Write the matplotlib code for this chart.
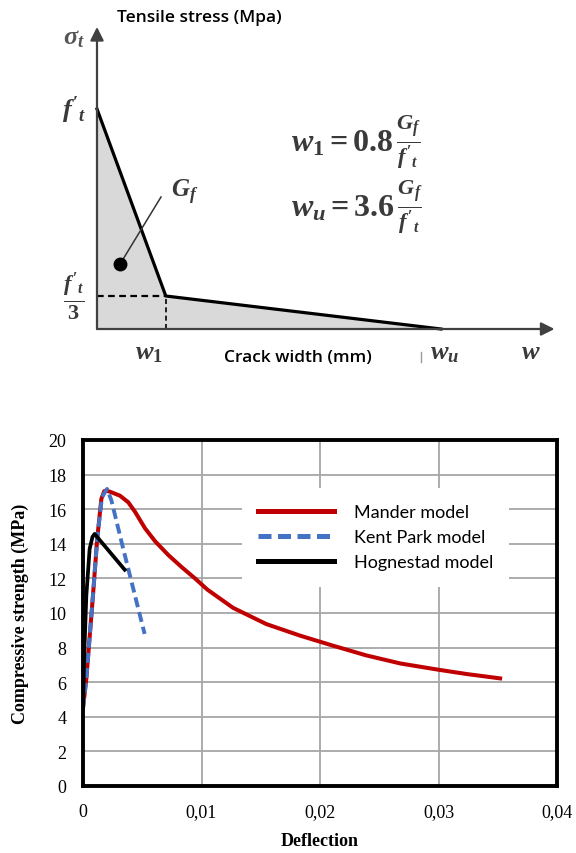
import matplotlib
matplotlib.use("Agg")
import matplotlib.pyplot as plt
from matplotlib.ticker import FuncFormatter, MultipleLocator
from matplotlib.patches import Polygon

plt.rcParams["mathtext.fontset"] = "custom"
plt.rcParams["mathtext.it"] = "Liberation Serif:italic:bold"
plt.rcParams["mathtext.rm"] = "Liberation Serif:bold"
plt.rcParams["mathtext.bf"] = "Liberation Serif:bold"

# schematic softening law (relative units)
law_w = [0.0, 0.2, 1.0]
law_sigma = [1.0, 0.15, 0.0]

# compressive curves
mander_x = [0.0, 0.00028, 0.00084, 0.0012, 0.00155, 0.0018, 0.00197, 0.00228, 0.00312,
            0.00382, 0.00439, 0.00523, 0.00608, 0.0072, 0.00833, 0.00945, 0.0105,
            0.01266, 0.01547, 0.01828, 0.0211, 0.0239, 0.0268, 0.0300, 0.0324, 0.0352]
mander_y = [4.5, 6.2, 11.0, 14.3, 16.6, 17.05, 17.07, 17.01, 16.78,
            16.4, 15.85, 14.9, 14.15, 13.35, 12.65, 12.0, 11.35,
            10.3, 9.36, 8.7, 8.11, 7.55, 7.08, 6.72, 6.47, 6.22]
kent_x = [0.0, 0.00028, 0.00084, 0.0012, 0.0016, 0.00203, 0.0024, 0.00338, 0.0052]
kent_y = [4.5, 6.2, 11.0, 14.3, 16.7, 17.17, 16.5, 13.75, 8.79]
hog_x = [0.0, 0.0001, 0.00028, 0.00056, 0.0008, 0.00098, 0.00352]
hog_y = [4.5, 7.5, 11.0, 13.7, 14.4, 14.57, 12.5]

fig = plt.figure(figsize=(5.76, 8.54), dpi=100)

# ---------- top: schematic ----------
top = fig.add_axes([0, 1 - 380 / 854, 1, 380 / 854])
top.set_xlim(-97 / 344, (576 - 97) / 344)
top.set_ylim(-50 / 220, 330 / 220)
top.axis("off")

poly = [(0.0, 0.0)] + list(zip(law_w, law_sigma))
top.add_patch(Polygon(poly, closed=True, facecolor="#d9d9d9", edgecolor="none", zorder=1))
top.plot(law_w, law_sigma, color="black", lw=2.3, zorder=4)
top.plot([0, law_w[1]], [law_sigma[1], law_sigma[1]], color="black", lw=1.6, ls=(0, (3, 2)), zorder=3)
top.plot([law_w[1], law_w[1]], [0, law_sigma[1]], color="black", lw=1.2, ls=(0, (3, 2)), zorder=3)

arrow = dict(arrowstyle="-|>", color="#404040", lw=1.6, mutation_scale=20, shrinkA=0, shrinkB=0)
top.annotate("", xy=(0, 1.373), xytext=(0, 0), arrowprops=arrow, zorder=5)
top.annotate("", xy=(1.33, 0), xytext=(0, 0), arrowprops=arrow, zorder=5)

top.plot([0.067, 0.186], [0.295, 0.6], color="#333333", lw=1.1, zorder=5)
top.plot([0.067], [0.295], "o", color="black", ms=9, zorder=6)
top.plot([0.942, 0.942], [-0.105, -0.15], color="#999999", lw=1)

ms = 19
tc = "#3a3a3a"
top.text(-0.067, 1.33, r"$\sigma_t$", fontsize=ms, ha="center", va="center", color="#555555")
top.text(-0.067, 1.0, r"$f'_t$", fontsize=ms, ha="center", va="center", color=tc)
top.text(-0.067, 0.15, r"$\frac{f'_t}{3}$", fontsize=ms + 4, ha="center", va="center", color=tc)
top.text(0.15, -0.1, r"$w_1$", fontsize=ms, ha="center", va="center", color=tc)
top.text(1.01, -0.1, r"$w_u$", fontsize=ms, ha="center", va="center", color=tc)
top.text(1.26, -0.1, r"$w$", fontsize=ms, ha="center", va="center", color=tc)
top.text(0.256, 0.627, r"$G_f$", fontsize=ms - 1, ha="center", va="center", color=tc)
top.text(0.565, 0.85, r"$w_1 = 0.8\,\frac{G_f}{f'_t}$", fontsize=23, ha="left", va="center", color=tc)
top.text(0.565, 0.555, r"$w_u = 3.6\,\frac{G_f}{f'_t}$", fontsize=23, ha="left", va="center", color=tc)
top.text(0.058, 1.42, "Tensile stress (Mpa)", fontsize=12.5, family="Open Sans",
         weight="semibold", ha="left", va="center")
top.text(0.584, -0.127, "Crack width (mm)", fontsize=12.5, family="Open Sans",
         weight="semibold", ha="center", va="center")

# ---------- bottom: compressive models ----------
ax = fig.add_axes([83 / 576, (854 - 787) / 854, (557 - 83) / 576, (787 - 441) / 854])
ax.plot(mander_x, mander_y, color="#c00000", lw=2.9, label="Mander model", zorder=3)
ax.plot(kent_x, kent_y, color="#4472c4", lw=2.8, dashes=(2.6, 1.3), label="Kent Park model", zorder=4)
ax.plot(hog_x, hog_y, color="black", lw=2.7, label="Hognestad model", zorder=5)

ax.set_xlim(0, 0.04)
ax.set_ylim(0, 20)
ax.xaxis.set_major_locator(MultipleLocator(0.01))
ax.yaxis.set_major_locator(MultipleLocator(2))
ax.xaxis.set_major_formatter(FuncFormatter(lambda v, p: "0" if abs(v) < 1e-9 else f"{v:.2f}".replace(".", ",")))
ax.grid(True, color="#a6a6a6", lw=1.3)
ax.set_axisbelow(True)
for s in ax.spines.values():
    s.set_linewidth(2.8)
    s.set_color("black")
    s.set_zorder(6)
ax.tick_params(length=0, labelsize=13)
ax.tick_params(axis="x", pad=12)
ax.tick_params(axis="y", pad=12)
for lab in ax.get_xticklabels() + ax.get_yticklabels():
    lab.set_family("Liberation Serif")

ax.set_xlabel("Deflection", family="Liberation Serif", weight="bold", fontsize=13, labelpad=9)
ax.set_ylabel("Compressive strength (MPa)", family="Liberation Serif", weight="bold", fontsize=13, labelpad=14)

leg = ax.legend(loc="upper left", bbox_to_anchor=(0.316, 0.887), frameon=True, fancybox=False,
                framealpha=1, facecolor="white", edgecolor="none", handlelength=4.2,
                handletextpad=1.1, labelspacing=0.5, borderpad=0.9,
                prop={"family": "Lato", "size": 13})
for h in leg.get_lines():
    h.set_linewidth(3.6)

fig.savefig("out.png", dpi=100)
